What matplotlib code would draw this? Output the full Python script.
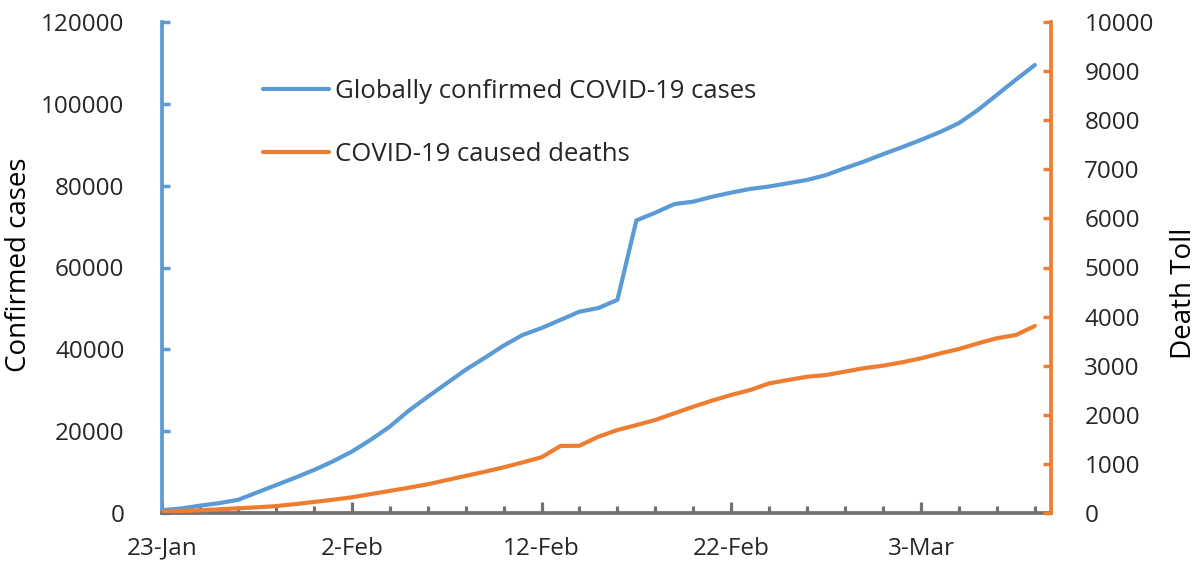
import matplotlib
matplotlib.use("Agg")
import matplotlib.pyplot as plt
import matplotlib.dates as mdates
import pandas as pd
import numpy as np

# ---- data ----
start_date = "2020-01-23"
confirmed_cases = [700, 1100, 1800, 2400, 3200, 5000, 6800, 8600, 10500, 12600,
                   15000, 17900, 21100, 25000, 28400, 31700, 35000, 37900, 40900, 43500,
                   45200, 47200, 49200, 50100, 52100, 71500, 73400, 75500, 76100, 77300,
                   78300, 79200, 79800, 80600, 81400, 82600, 84300, 85900, 87700, 89400,
                   91200, 93100, 95300, 98500, 102200, 105900, 109500]
deaths = [25, 40, 55, 75, 95, 115, 140, 180, 225, 270,
          320, 385, 450, 515, 585, 670, 755, 840, 930, 1030,
          1135, 1365, 1370, 1555, 1690, 1790, 1895, 2030, 2165, 2290,
          2405, 2505, 2640, 2710, 2775, 2810, 2880, 2950, 3000, 3070,
          3150, 3250, 3340, 3455, 3560, 3625, 3810]
label_cases = "Globally confirmed COVID-19 cases"
label_deaths = "COVID-19 caused deaths"
ylabel_left = "Confirmed cases"
ylabel_right = "Death Toll"

dates = pd.date_range(start_date, periods=len(confirmed_cases))

BLUE = "#5B9BD5"
ORANGE = "#ED7D31"
GREY = "#767171"
TXT = "#262626"

plt.rcParams['font.family'] = ['Open Sans', 'DejaVu Sans']

fig = plt.figure(figsize=(12.04, 5.69), dpi=100)
W, H = 1204, 569
L, R, T, B = 162, 1051, 22, 513
ax = fig.add_axes([L / W, (H - B) / H, (R - L) / W, (B - T) / H])
ax2 = ax.twinx()

l1, = ax.plot(dates, confirmed_cases, color=BLUE, lw=3.0, solid_capstyle='round',
              solid_joinstyle='round', label=label_cases)
l2, = ax2.plot(dates, deaths, color=ORANGE, lw=3.0, solid_capstyle='round',
               solid_joinstyle='round', label=label_deaths)

x0 = dates[0]
x1 = dates[0] + pd.Timedelta(days=46.85)
ax.set_xlim(x0, x1)
ax.set_ylim(0, 120000)
ax2.set_ylim(0, 10000)
ax.set_yticks(np.arange(0, 120001, 20000))
ax2.set_yticks(np.arange(0, 10001, 1000))

ax.set_xticks(dates[::10])
ax.set_xticks(dates[::2], minor=True)
ax.xaxis.set_major_formatter(plt.FuncFormatter(
    lambda v, p: (lambda d: f"{d.day}-{d.strftime('%b')}")(mdates.num2date(v))))

for s in ['top', 'right']:
    ax.spines[s].set_visible(False)
for s in ['top', 'left', 'bottom']:
    ax2.spines[s].set_visible(False)
ax.spines['left'].set_color(BLUE)
ax.spines['left'].set_linewidth(2.7)
ax.spines['bottom'].set_color(GREY)
ax.spines['bottom'].set_linewidth(2.7)
ax2.spines['right'].set_color(ORANGE)
ax2.spines['right'].set_linewidth(2.7)

TS = 17.5
ax.tick_params(axis='y', direction='in', length=6, width=2.5, color=BLUE,
               labelsize=TS, labelcolor=TXT, pad=27)
ax2.tick_params(axis='y', direction='in', length=6, width=2.5, color=ORANGE,
                labelsize=TS, labelcolor=TXT, pad=24)
ax.tick_params(axis='x', which='major', direction='in', length=8, width=2.3, color=GREY,
               labelsize=TS, labelcolor=TXT, pad=17)
ax.tick_params(axis='x', which='minor', direction='in', length=5, width=2.3, color=GREY)

ax.set_ylabel(ylabel_left, fontsize=20, color='black')
ax.yaxis.set_label_coords((33 - L) / (R - L), (B - 265) / (B - T))
ax2.set_ylabel(ylabel_right, fontsize=20, color='black', rotation=90)
ax2.yaxis.set_label_coords((1170 - L) / (R - L), (B - 293) / (B - T))

leg = ax2.legend(handles=[l1, l2], loc='upper left',
                 bbox_to_anchor=(240 / W, (H - 56) / H), bbox_transform=fig.transFigure,
                 frameon=False, fontsize=18.5, handlelength=2.55, handletextpad=0.25,
                 labelspacing=1.48, labelcolor=TXT)

fig.savefig("out.png", dpi=100)
